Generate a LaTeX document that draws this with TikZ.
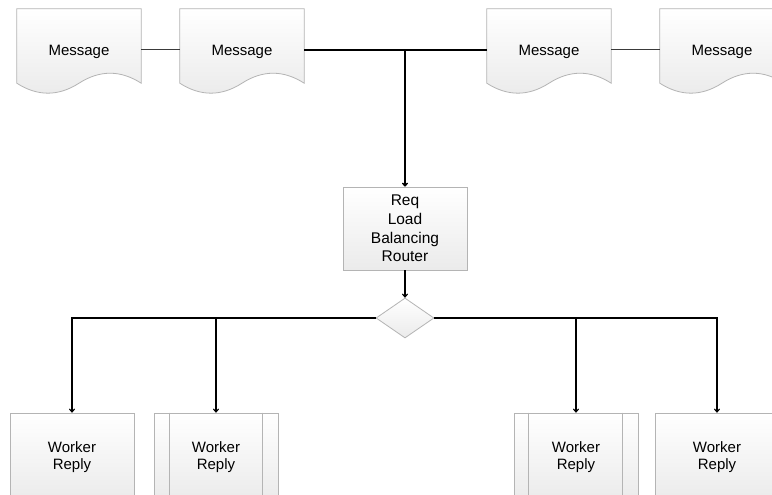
\documentclass[tikz,border=0pt]{standalone}
\usepackage{fontspec}
\setmainfont{Liberation Sans}
\usetikzlibrary{arrows.meta,shapes.geometric,calc,backgrounds}
\definecolor{edgegray}{HTML}{B4B4B4}
\definecolor{lineA}{HTML}{3A3A3A}
\tikzset{
  boxfill/.style={top color=white, bottom color=black!8, draw=edgegray, line width=0.8pt},
  msgtext/.style={rectangle, minimum width=124pt, minimum height=82pt, inner sep=0pt, text height=12pt, text depth=0pt, font=\fontsize{15}{17}\selectfont},
  workbox/.style={boxfill, rectangle, minimum width=124pt, minimum height=88pt, inner sep=0pt, align=center, font=\fontsize{15}{16.7}\selectfont},
  routerbox/.style={boxfill, rectangle, minimum width=124pt, minimum height=83pt, inner sep=0pt, align=center, font=\fontsize{15.5}{18.7}\selectfont},
  decision/.style={boxfill, diamond, minimum width=58pt, minimum height=40pt, inner sep=0pt},
  thinlink/.style={draw=lineA, line width=1pt},
  thicklink/.style={draw=black, line width=1.5pt},
  arrowlink/.style={draw=black, line width=1.1pt, -{To[length=4pt,width=6pt]}}
}
\newcommand\docshape[1]{%
  \path[boxfill] (#1.north west) -- (#1.north east) -- ($(#1.south east)+(0,-8)$)
    .. controls +(-20.7,-13.3) and +(20.7,-13.3) .. ($(#1.south)+(0,-8)$)
    .. controls +(-20.7,13.3) and +(20.7,13.3) .. ($(#1.south west)+(0,-8)$) -- cycle;}
\begin{document}
\begin{tikzpicture}[x=1pt,y=-1pt]
\useasboundingbox (0,0) rectangle (772,495);
\clip (0,0) rectangle (772,495);
% message documents
\node[msgtext] (m1) at (79,50) {Message};
\node[msgtext] (m2) at (242,50) {Message};
\node[msgtext] (m3) at (549,50) {Message};
\node[msgtext] (m4) at (722,50) {Message};
\begin{scope}[on background layer]
  \fill[white] (0,0) rectangle (772,495);
  \docshape{m1}
  \docshape{m2}
  \docshape{m3}
  \docshape{m4}
\end{scope}
\coordinate (j) at (405,50);
% router and decision
\node[routerbox] (r) at (405,228.5) {Req\\Load\\Balancing\\Router};
\node[decision] (d) at (405,318) {};
% workers
\node[workbox] (w1) at (72,457) {Worker\\Reply};
\node[workbox] (w2) at (216,457) {Worker\\Reply};
\node[workbox] (w3) at (576,457) {Worker\\Reply};
\node[workbox] (w4) at (717,457) {Worker\\Reply};
\draw[edgegray, line width=0.8pt] ($(w2.north west)+(16,0)$) -- ($(w2.south west)+(16,0)$);
\draw[edgegray, line width=0.8pt] ($(w2.north east)+(-16,0)$) -- ($(w2.south east)+(-16,0)$);
\draw[edgegray, line width=0.8pt] ($(w3.north west)+(15,0)$) -- ($(w3.south west)+(15,0)$);
\draw[edgegray, line width=0.8pt] ($(w3.north east)+(-16,0)$) -- ($(w3.south east)+(-16,0)$);
% connectors
\draw[thinlink] (m1) -- (m2);
\draw[thicklink] (m2) -- (j);
\draw[draw=black, line width=1.2pt] (j) -- (m3);
\draw[thinlink] (m3) -- (m4);
\draw[arrowlink, line width=1.4pt] (j) -- (r);
\draw[arrowlink] (r) -- (d);
\draw[arrowlink] (d.west) -| (w1.north);
\draw[arrowlink] (d.west) -| (w2.north);
\draw[arrowlink] (d.east) -| (w3.north);
\draw[arrowlink] (d.east) -| (w4.north);
\end{tikzpicture}
\end{document}
